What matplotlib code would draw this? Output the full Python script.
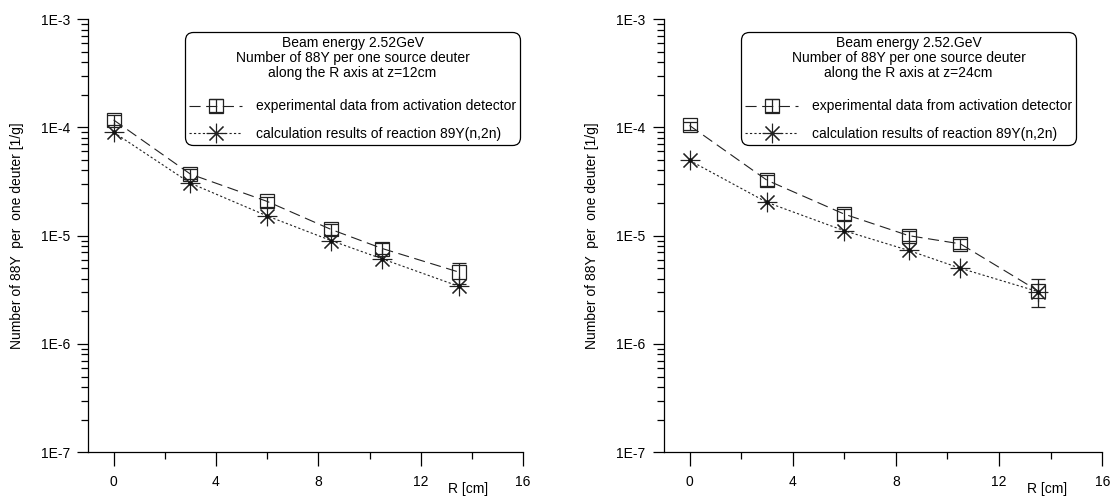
"""Two log plots: 88Y yield per deuteron along R, z=12cm and z=24cm."""
import numpy as np
import matplotlib
matplotlib.use("Agg")
import matplotlib.pyplot as plt
from matplotlib.ticker import FixedLocator, LogLocator, NullFormatter, MultipleLocator

plt.rcParams['font.family'] = ['Liberation Sans', 'DejaVu Sans']
plt.rcParams['font.size'] = 10

R = [0, 3, 6, 8.5, 10.5, 13.5]
exp_z12 = [1.17e-4, 3.7e-5, 2.07e-5, 1.14e-5, 7.6e-6, 4.6e-6]
err_z12 = [1.2e-5, 4.0e-6, 2.2e-6, 1.3e-6, 0.9e-6, 1.0e-6]
calc_z12 = [9.0e-5, 3.05e-5, 1.52e-5, 9.0e-6, 6.1e-6, 3.4e-6]
exp_z24 = [1.04e-4, 3.25e-5, 1.58e-5, 1.0e-5, 8.4e-6, 3.1e-6]
err_z24 = [0.9e-5, 3.5e-6, 1.8e-6, 1.1e-6, 0.9e-6, 0.9e-6]
calc_z24 = [4.95e-5, 2.03e-5, 1.11e-5, 7.3e-6, 5.0e-6, 3.05e-6]

TITLES = ["Beam energy 2.52GeV\nNumber of 88Y per one source deuter\nalong the R axis at z=12cm",
          "Beam energy 2.52.GeV\nNumber of 88Y per one source deuter\nalong the R axis at z=24cm"]
EXP_LBL = "experimental data from activation detector"
CALC_LBL = "calculation results of reaction 89Y(n,2n)"
YLBL = "Number of 88Y  per  one deuter [1/g]"
YT = [1e-7, 1e-6, 1e-5, 1e-4, 1e-3]
YTL = ["1E-7", "1E-6", "1E-5", "1E-4", "1E-3"]

fig = plt.figure(figsize=(11.1, 4.99), dpi=100)
axes = [fig.add_axes([0.0793, 0.0936, 0.392, 0.8683]),
        fig.add_axes([0.598, 0.0936, 0.395, 0.8683])]
leg_x = [0.993, 0.9406]

for ax, ex, er, ca, ttl, lx in zip(axes, [exp_z12, exp_z24], [err_z12, err_z24],
                                   [calc_z12, calc_z24], TITLES, leg_x):
    ax.set_yscale("log")
    eb = ax.errorbar(R, ex, yerr=er, color="#222222", lw=0.8, dashes=(10, 5),
                     marker="s", ms=10, mfc="none", mec="#222222", mew=0.9,
                     ecolor="#222222", elinewidth=0.9, capsize=5, capthick=0.9,
                     label=EXP_LBL)
    eb[-1][0].set_linestyle("-")
    ln, = ax.plot(R, ca, color="#222222", lw=0.8, dashes=(2, 2), marker=(8, 2, 0),
                  ms=14, mec="#222222", mew=0.8, label=CALC_LBL)
    ax.plot(R, ca, ls="none", marker="o", ms=2.2, color="#111111")

    ax.set_xlim(-1, 16); ax.set_ylim(1e-7, 1e-3)
    ax.xaxis.set_major_locator(MultipleLocator(4))
    ax.xaxis.set_minor_locator(MultipleLocator(2))
    ax.yaxis.set_major_locator(FixedLocator(YT))
    ax.set_yticklabels(YTL)
    ax.yaxis.set_minor_locator(LogLocator(base=10, subs=range(2, 10)))
    ax.yaxis.set_minor_formatter(NullFormatter())
    ax.tick_params(axis="x", which="major", direction="out", length=10, width=0.9, pad=6)
    ax.tick_params(axis="x", which="minor", direction="out", length=5, width=0.9)
    ax.tick_params(axis="y", which="major", direction="out", length=8, width=0.9, pad=5)
    ax.tick_params(axis="y", which="minor", direction="out", length=5, width=0.9)
    for s in ("top", "right"):
        ax.spines[s].set_visible(False)
    for s in ("left", "bottom"):
        ax.spines[s].set_linewidth(0.9)
    ax.set_ylabel(YLBL)
    ax.yaxis.set_label_coords(-0.148, 0.5)
    ax.text(0.874, -0.085, "R [cm]", transform=ax.transAxes, ha="center", va="center")

    leg = ax.legend([eb, ln], [EXP_LBL, CALC_LBL], title=ttl, loc="upper right",
                    bbox_to_anchor=(lx, 0.971), borderaxespad=0, numpoints=1,
                    handlelength=3.8, handletextpad=1.0, labelspacing=1.0,
                    borderpad=0.3, frameon=True, fancybox=True,
                    framealpha=1, edgecolor="black")
    leg.get_title().set_linespacing(1.1)
    leg.get_title().set_multialignment("center")
    leg._legend_box.sep = 14
    fr = leg.get_frame()
    fr.set_linewidth(0.9)
    fr.set_boxstyle("round", pad=0, rounding_size=0.6)

fig.savefig("out.png", dpi=100)
